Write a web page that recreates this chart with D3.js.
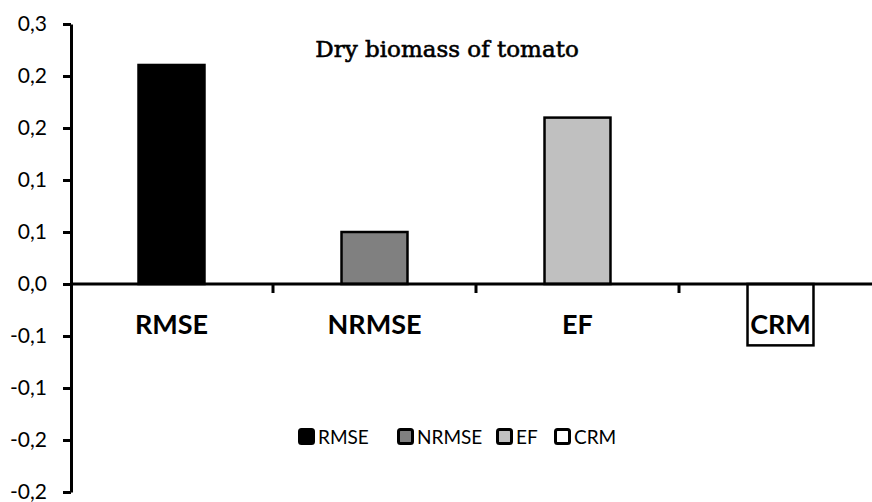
<!DOCTYPE html>
<html>
<head>
<meta charset="utf-8">
<script src="https://cdn.jsdelivr.net/npm/d3@7"></script>
<style>
  html, body { margin: 0; padding: 0; background: #fff; }
  svg { display: block; }
</style>
</head>
<body>
<svg id="chart" width="872" height="502"></svg>
<script>
const categories = ["RMSE", "NRMSE", "EF", "CRM"];
const values = [0.2106, 0.05, 0.16, -0.059];
const fills = ["#000000", "#808080", "#c0c0c0", "#ffffff"];
const yTickValues = [-0.2, -0.15, -0.1, -0.05, 0, 0.05, 0.1, 0.15, 0.2, 0.25];
const yTickLabels = ["-0,2", "-0,2", "-0,1", "-0,1", "0,0", "0,1", "0,1", "0,2", "0,2", "0,3"];
const title = "Dry biomass of tomato";

const svg = d3.select("#chart");
const y = d3.scaleLinear().domain([-0.2, 0.25]).range([492, 24]);
const x = d3.scaleBand().domain(categories).range([70, 882]).paddingInner(0.675).paddingOuter(0.3375);

// bars
svg.append("g").selectAll("rect").data(categories).join("rect")
  .attr("x", d => x(d))
  .attr("width", x.bandwidth())
  .attr("y", (d, i) => y(Math.max(0, values[i])))
  .attr("height", (d, i) => Math.abs(y(values[i]) - y(0)))
  .attr("fill", (d, i) => fills[i])
  .attr("stroke", "#000")
  .attr("stroke-width", 2.5);

// y axis
const yAxis = d3.axisLeft(y).tickValues(yTickValues)
  .tickFormat((d, i) => yTickLabels[i]).tickSize(8).tickSizeOuter(0).tickPadding(16);
const gy = svg.append("g").attr("transform", "translate(71,0)").call(yAxis);
gy.select(".domain").attr("stroke", "#000").attr("stroke-width", 3);
gy.selectAll(".tick line").attr("stroke", "#000").attr("stroke-width", 3);
gy.selectAll(".tick text").attr("font-family", "Lato, 'Open Sans', sans-serif")
  .attr("font-size", 21).attr("fill", "#000");

// x axis at zero
const xTicks = d3.range(categories.length + 1).map(i => 70 + i * (812 / categories.length));
const gx = svg.append("g");
gx.append("line").attr("x1", 70).attr("x2", 872).attr("y1", y(0)).attr("y2", y(0))
  .attr("stroke", "#000").attr("stroke-width", 3);
gx.selectAll("line.t").data(xTicks.slice(1, 4)).join("line").attr("class", "t")
  .attr("x1", d => d).attr("x2", d => d).attr("y1", y(0)).attr("y2", y(0) + 9)
  .attr("stroke", "#000").attr("stroke-width", 3);
gx.selectAll("text").data(categories).join("text")
  .attr("x", d => x(d) + x.bandwidth() / 2)
  .attr("y", y(0) + 50)
  .attr("text-anchor", "middle")
  .attr("font-family", "Lato, 'Open Sans', sans-serif")
  .attr("font-weight", "bold")
  .attr("font-size", 27)
  .attr("fill", "#000")
  .text(d => d);

// title
svg.append("text").attr("x", 447).attr("y", 57).attr("text-anchor", "middle")
  .attr("font-family", "'DejaVu Serif', 'Liberation Serif', serif")
  .attr("font-size", 23).attr("fill", "#000")
  .attr("stroke", "#000").attr("stroke-width", 0.6).text(title);

// legend
const legX = [298, 397, 496, 554];
const lg = svg.append("g").selectAll("g").data(categories).join("g")
  .attr("transform", (d, i) => `translate(${legX[i]},428)`);
lg.append("rect").attr("x", 1.5).attr("y", 1.5).attr("width", 14).attr("height", 14)
  .attr("rx", 2)
  .attr("fill", (d, i) => fills[i]).attr("stroke", "#000").attr("stroke-width", 3);
lg.append("text").attr("x", 20).attr("y", 16)
  .attr("font-family", "Lato, 'Open Sans', sans-serif")
  .attr("font-size", 19).attr("fill", "#000").text(d => d);
</script>
</body>
</html>
